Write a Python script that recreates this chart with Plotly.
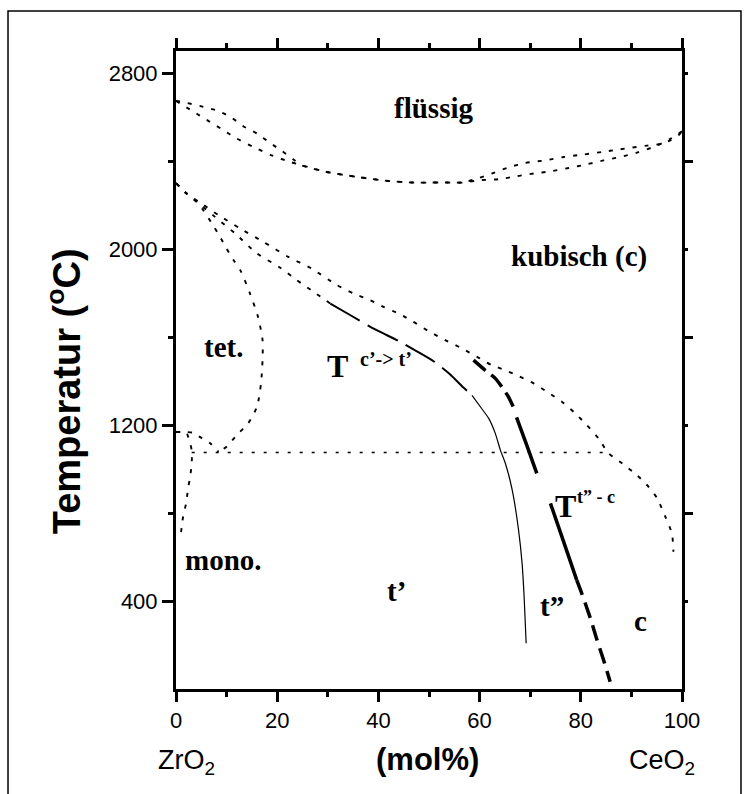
import plotly.graph_objects as go

# ---- phase boundaries of the ZrO2-CeO2 system (x in mol% CeO2, T in degC) ----
liq_upper_x = [0, 1.4, 5.4, 8.4, 11.0, 13.3, 16.0, 18.6, 20.9, 23.2, 24.8, 29.8, 35.7, 42.0, 46.9,
               50.2, 53.5, 56.8, 59.8, 62.4, 66.0, 69.0, 73.0, 76.6, 80.4, 84.2, 87.5, 90.1, 93.1,
               95.4, 97.7, 99.3, 100]
liq_upper_t = [2673, 2668, 2646, 2627, 2597, 2558, 2525, 2482, 2446, 2407, 2381, 2350, 2328, 2309, 2302,
               2302, 2302, 2303, 2322, 2343, 2373, 2391, 2403, 2418, 2429, 2441, 2452, 2461, 2470,
               2476, 2494, 2517, 2535]

liq_lower_x = [0, 4.1, 6.7, 9.4, 12.0, 15.3, 18.9, 22.5, 24.8, 29.8, 35.7, 42.0, 46.9, 50.2, 53.5,
               56.8, 60.1, 63.7, 67.4, 70.7, 74.0, 77.6, 81.2, 84.5, 87.8, 91.1, 94.7, 97.5, 100]
liq_lower_t = [2673, 2615, 2578, 2540, 2502, 2464, 2426, 2396, 2381, 2350, 2328, 2309, 2302, 2302, 2302,
               2302, 2313, 2317, 2331, 2343, 2353, 2368, 2385, 2403, 2418, 2438, 2467, 2498, 2535]

tet_x = [0, 2.1, 4.1, 5.4, 7.1, 8.7, 10.0, 11.3, 12.7, 14.6, 16.2, 17.1, 17.1, 16.8, 16.0, 14.3, 12.0, 10.0, 8.4]
tet_t = [2299, 2252, 2214, 2176, 2116, 2055, 2002, 1952, 1904, 1799, 1692, 1586, 1495, 1390, 1283, 1209, 1154, 1101, 1078]

cub_x = [0, 2.1, 4.5, 8.4, 12.7, 17.3, 22.2, 26.8, 31.8, 35.1, 38.4, 41.0, 44.3, 46.9, 50.2, 53.2, 56.5,
         59.5, 62.4, 65.1, 67.7, 70.7, 73.3, 76.3, 78.9, 81.2, 83.8, 85.2, 88.2, 91.1, 93.4, 95.1, 96.7,
         98.0, 98.3]
cub_t = [2299, 2252, 2215, 2154, 2093, 2032, 1964, 1911, 1836, 1798, 1767, 1737, 1703, 1669, 1623, 1586, 1548,
         1510, 1472, 1449, 1422, 1389, 1351, 1305, 1253, 1199, 1131, 1078, 1025, 972, 919, 866, 783,
         707, 624]

# metastable T(c'->t') line: dotted start, long-dash middle, thin solid tail
ct_dot_x = [0, 2.1, 4.1, 7.7, 11.7, 16.0, 20.6, 23.9, 27.2, 30.5]
ct_dot_t = [2299, 2252, 2214, 2146, 2070, 1980, 1915, 1858, 1805, 1752]
ct_dash_x = [30.5, 34.4, 38.4, 41.7, 44.3, 47.6, 50.9, 54.2, 56.8, 58.5]
ct_dash_t = [1752, 1700, 1646, 1608, 1578, 1535, 1490, 1430, 1370, 1335]
ct_thin_x = [58.5, 60.4, 61.8, 63.1, 64.1, 65.1, 66.0, 66.7, 67.7, 68.4, 68.8, 69.2]
ct_thin_t = [1335, 1275, 1230, 1162, 1086, 1025, 950, 874, 722, 571, 419, 208]

# T(t''-c) line in four pieces
tc_a_x = [58.8, 61.1, 63.1, 64.4, 65.7, 67.0]
tc_a_t = [1495, 1449, 1412, 1373, 1328, 1265]
tc_b_x = [67.3, 69.3, 71.3]
tc_b_t = [1235, 1110, 980]
tc_c_x = [74.0, 76.6, 79.2]
tc_c_t = [844, 670, 495]
tc_d_x = [79.2, 80.2, 81.9, 83.2, 84.5, 85.8]
tc_d_t = [495, 434, 321, 223, 132, 33]

# monoclinic / tetragonal region at the ZrO2 side
mono_a_x = [0, 2.0, 3.8, 4.7, 6.7, 8.4]
mono_a_t = [1168, 1168, 1163, 1146, 1118, 1078]
mono_b_x = [2.2, 2.4, 3.1, 3.1, 2.8, 2.4, 2.0, 1.4, 0.9]
mono_b_t = [1160, 1146, 1086, 1027, 965, 913, 845, 783, 692]

eut_x = [3.1, 85.2]
eut_t = [1075, 1075]

x_ticks = [0, 20, 40, 60, 80, 100]
x_minor = [10, 30, 50, 70, 90]
y_ticks = [400, 1200, 2000, 2800]
y_minor = [800, 1600, 2400]

fig = go.Figure()


def add_line(xs, ts, width=2.0, dash="solid", shape="spline"):
    fig.add_trace(go.Scatter(x=xs, y=ts, mode="lines",
                             line=dict(color="black", width=width, dash=dash, shape=shape, smoothing=0.7),
                             showlegend=False, hoverinfo="skip"))


dots = "4px,8px"
add_line(liq_upper_x, liq_upper_t, 1.9, dots)
add_line(liq_lower_x, liq_lower_t, 1.9, dots)
add_line(tet_x, tet_t, 1.9, dots)
add_line(cub_x, cub_t, 1.9, dots)
add_line(ct_dot_x, ct_dot_t, 1.9, dots)
add_line(ct_dash_x, ct_dash_t, 2.0, "34px,9px")
add_line(ct_thin_x, ct_thin_t, 1.2, "solid")
add_line(tc_a_x, tc_a_t, 3.5, "16px,7px")
add_line(tc_b_x, tc_b_t, 3.5, "solid")
add_line(tc_c_x, tc_c_t, 3.5, "solid")
add_line(tc_d_x, tc_d_t, 3.5, "16px,8px")
add_line(mono_a_x, mono_a_t, 1.9, dots)
add_line(mono_b_x, mono_b_t, 1.9, dots)
add_line(eut_x, eut_t, 1.5, "3px,9px", "linear")

# invisible trace so the right-hand tick axis is drawn
fig.add_trace(go.Scatter(x=[None], y=[None], yaxis="y2", showlegend=False, hoverinfo="skip"))

serif = "Liberation Serif"
sans = "Liberation Sans"


def label(x, y, text, size=29, anchor="center"):
    fig.add_annotation(x=x, y=y, xref="x", yref="y", text=text, showarrow=False,
                       xanchor=anchor, yanchor="middle",
                       font=dict(family=serif, size=size, color="black"))


label(50.8, 2641, "<b>flüssig</b>")
label(79.6, 1968, "<b>kubisch (c)</b>")
label(9.3, 1555, "<b>tet.</b>")
label(32.0, 1468, "<b>T</b>", size=32)
label(36.0, 1500, "<b>c’-> t’</b>", size=20, anchor="left")
label(76.9, 832, "<b>T</b>", size=32)
label(78.9, 873, "<b>t” - c</b>", size=18, anchor="left")
label(74.3, 377, "<b>t”</b>")
label(91.7, 309, "<b>c</b>")
label(43.5, 445, "<b>t’</b>")
label(9.3, 586, "<b>mono.</b>")


def paper_text(x, y, text, size, angle=0):
    fig.add_annotation(x=x, y=y, xref="paper", yref="paper", text=text, textangle=angle,
                       showarrow=False, xanchor="center", yanchor="middle",
                       font=dict(family=sans, size=size, color="black"))


# axis titles and end-member names
paper_text(-0.221, 0.467, "<b>Temperatur (<sup>o</sup>C)</b>", 38, -90)
paper_text(0.498, -0.111, "<b>(mol%)</b>", 31)
paper_text(0.0198, -0.114, "ZrO<sub>2</sub>", 27)
paper_text(0.96, -0.114, "CeO<sub>2</sub>", 27)

# outer frame around the figure
fig.add_shape(type="rect", xref="paper", yref="paper", x0=-0.332, x1=1.1166, y0=-0.2, y1=1.0627,
              line=dict(color="black", width=1.5))

fig.update_layout(
    width=750, height=794,
    margin=dict(l=176, r=68, t=51, b=105),
    paper_bgcolor="white", plot_bgcolor="white",
    xaxis=dict(range=[0, 100], tickvals=x_ticks, ticks="outside", ticklen=10, tickwidth=2.5,
               tickcolor="black", showline=True, linewidth=3, linecolor="black", mirror="ticks",
               showgrid=False, zeroline=False,
               tickfont=dict(family=sans, size=22, color="black"),
               minor=dict(tickvals=x_minor, ticks="outside", ticklen=5, tickwidth=2.5, tickcolor="black")),
    yaxis=dict(range=[0, 2900], tickvals=y_ticks, ticks="outside", ticklen=11, tickwidth=2.5,
               tickcolor="black", showline=True, linewidth=3, linecolor="black", mirror=True,
               showgrid=False, zeroline=False,
               tickfont=dict(family=sans, size=22, color="black"),
               minor=dict(tickvals=y_minor, ticks="outside", ticklen=5, tickwidth=2.5, tickcolor="black")),
    yaxis2=dict(range=[0, 2900], overlaying="y", side="right", anchor="x", tickvals=y_minor,
                ticks="outside", ticklen=10, tickwidth=2.5, tickcolor="black", showticklabels=False,
                showline=False, showgrid=False, zeroline=False,
                minor=dict(tickvals=y_ticks, ticks="outside", ticklen=5, tickwidth=2.5, tickcolor="black")),
)

fig.write_html("out.html")
